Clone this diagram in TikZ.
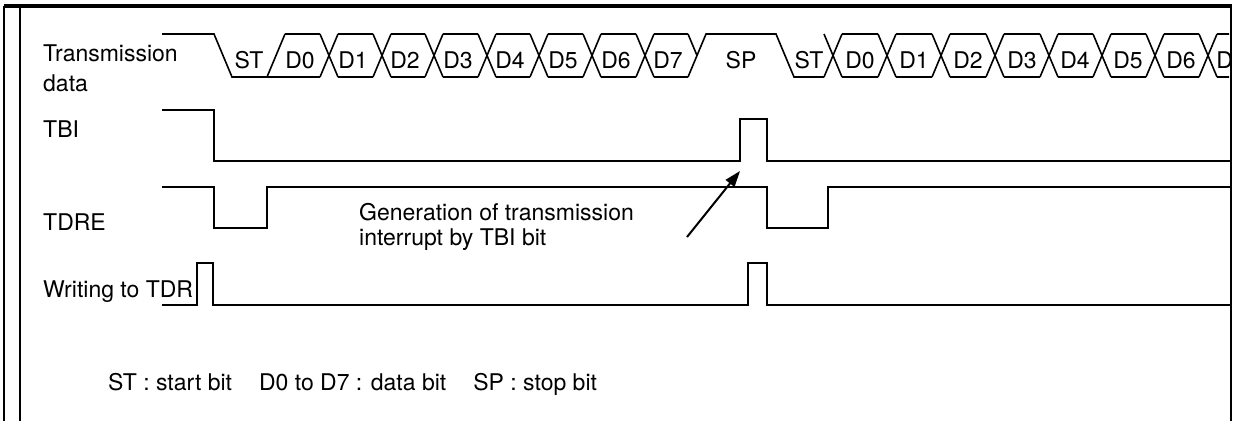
\documentclass[tikz,border=0pt]{standalone}
\usepackage{fontspec}
\setmainfont{TeX Gyre Heros}
\usetikzlibrary{arrows.meta}

\begin{document}
\begin{tikzpicture}[x=1pt, y=-1pt,
    sig/.style={line width=1.6pt, line join=miter},
    framing/.style={line width=1.6pt},
    lbl/.style={font=\fontsize{23}{30}\selectfont, inner sep=0pt},
    celltxt/.style={font=\fontsize{23}{25}\selectfont, inner sep=0pt, anchor=base},
    arrow/.style={-{Triangle[length=16pt,width=11pt]}, line width=2pt}
  ]
  \useasboundingbox (0,0) rectangle (1238,421);

  % Frame
  \draw[line width=3.5pt] (4,6) -- (1232,6);
  \draw[framing] (4,6) -- (4,421);
  \draw[framing] (20,6) -- (20,421);
  \draw[line width=2.4pt] (1231,6) -- (1231,421);

  % Signal names
  \node[lbl, anchor=west, align=left] (txd) at (43,68) {Transmission\\data};
  \node[lbl, anchor=base west] (tbi) at (43,137) {TBI};
  \node[lbl, anchor=base west] (tdre) at (43,230) {TDRE};
  \node[lbl, anchor=base west] (wtdr) at (43,297) {Writing to TDR};

  % Transmission data, first frame
  \draw[sig] (162,34) -- (214,34) -- (232,77) -- (285,77);
  \draw[sig] (267,77) -- (285,34);
  \foreach \a/\b in {276/329, 329/382, 382/434, 434/487, 487/539, 539/592, 592/645, 645/697} {
    \draw[sig] (\a+9,34) -- (\b-9,34);
    \draw[sig] (\a+9,77) -- (\b-9,77);
  }
  \foreach \c in {329, 382, 434, 487, 539, 592, 645} {
    \draw[sig] (\c-9,34) -- (\c+9,77);
    \draw[sig] (\c-9,77) -- (\c+9,34);
  }
  \draw[sig] (688,34) -- (697,55.5);
  \draw[sig] (688,77) -- (706,34) -- (776,34) -- (794,77) -- (824,77);

  % Transmission data, second frame
  \begin{scope}
    \clip (0,0) rectangle (1229,421);
    \foreach \a/\b in {833/887, 887/941, 941/995, 995/1049, 1049/1102, 1102/1155, 1155/1208, 1208/1270} {
      \draw[sig] (\a+9,34) -- (\b-9,34);
      \draw[sig] (\a+9,77) -- (\b-9,77);
    }
    \foreach \c in {833, 887, 941, 995, 1049, 1102, 1155, 1208} {
      \draw[sig] (\c-9,34) -- (\c+9,77);
      \draw[sig] (\c-9,77) -- (\c+9,34);
    }
    \foreach \t/\x [count=\i] in {ST/249, D0/300, D1/353, D2/405, D3/458, D4/510, D5/563, D6/616, D7/668, SP/741,
                                 ST/809, D0/860, D1/914, D2/968, D3/1022, D4/1075, D5/1128, D6/1181, D7/1231}
      \node[celltxt] (cell\i) at (\x,68) {\t};
  \end{scope}

  % TBI
  \draw[sig] (162,110) -- (214,110) -- (214,161) -- (740,161) -- (740,119) -- (767,119) -- (767,161) -- (1230,161);

  % TDRE
  \draw[sig] (162,187) -- (214,187) -- (214,228) -- (267,228) -- (267,187) -- (767,187) -- (767,228) -- (828,228) -- (828,187) -- (1230,187);

  % Writing to TDR
  \draw[sig] (162,305) -- (197,305) -- (197,263) -- (213,263) -- (213,305) -- (748,305) -- (748,263) -- (767,263) -- (767,305) -- (1230,305);

  % Interrupt note
  \node[lbl, font=\fontsize{23}{25}\selectfont, anchor=west, align=left] (note) at (359,227) {Generation of transmission\\interrupt by TBI bit};
  \coordinate (arrtail) at (687,237);
  \coordinate (arrtip) at (740,171);
  \draw[arrow] (arrtail) -- (arrtip);

  % Legend
  \node[lbl, anchor=base west] (legend) at (108,390) {ST : start bit\hspace{27pt}D0 to D7 : data bit\hspace{27pt}SP : stop bit};

\end{tikzpicture}
\end{document}
